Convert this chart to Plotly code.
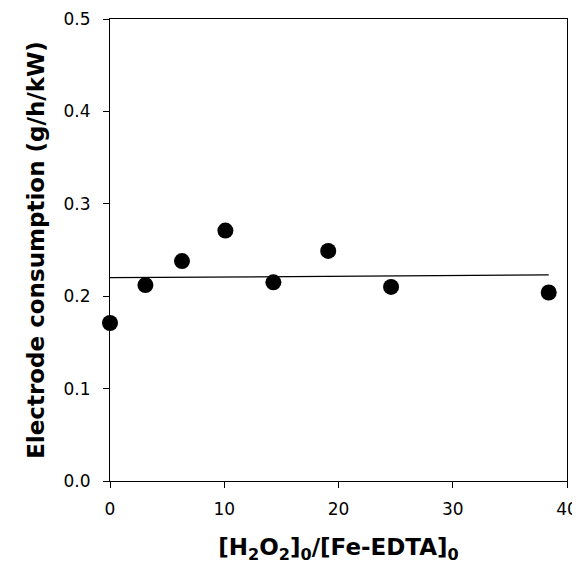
import plotly.graph_objects as go

# Data
ratio = [0, 3.1, 6.3, 10.1, 14.3, 19.1, 24.6, 38.4]
consumption = [0.171, 0.212, 0.238, 0.271, 0.215, 0.249, 0.210, 0.204]
fit_x = [0, 38.4]
fit_y = [0.220, 0.223]

x_ticks = [0, 10, 20, 30, 40]
y_ticks = [0.0, 0.1, 0.2, 0.3, 0.4, 0.5]

fig = go.Figure()
fig.add_trace(go.Scatter(x=fit_x, y=fit_y, mode="lines",
                         line=dict(color="black", width=1.3),
                         showlegend=False, hoverinfo="skip"))
fig.add_trace(go.Scatter(x=ratio, y=consumption, mode="markers",
                         marker=dict(color="black", size=16),
                         cliponaxis=False, showlegend=False))

font_family = "DejaVu Sans"
fig.update_layout(
    width=580, height=566,
    margin=dict(l=102, r=21, t=11, b=93),
    paper_bgcolor="white", plot_bgcolor="white",
    font=dict(family=font_family, color="black", size=17),
)
fig.update_xaxes(
    range=[0, 40], tickvals=x_ticks, ticktext=[str(v) for v in x_ticks],
    showgrid=False, zeroline=False, automargin=False,
    showline=True, linecolor="black", linewidth=1.2, mirror=True,
    ticks="outside", ticklen=6, tickcolor="black",
    tickfont=dict(size=17), ticklabelstandoff=6,
    title=dict(text="<b>[H<sub>2</sub>O<sub>2</sub>]<sub>0</sub>/[Fe-EDTA]<sub>0</sub></b>",
               font=dict(size=23), standoff=21),
)
fig.update_yaxes(
    range=[0, 0.5], tickvals=y_ticks, ticktext=[f"{v:.1f}" for v in y_ticks],
    showgrid=False, zeroline=False, automargin=False,
    showline=True, linecolor="black", linewidth=1.2, mirror=True,
    ticks="outside", ticklen=6, tickcolor="black",
    tickfont=dict(size=17), ticklabelstandoff=9,
    title=dict(text="<b>Electrode consumption (g/h/kW)</b>",
               font=dict(size=23), standoff=12),
)

fig.write_html("out.html")
